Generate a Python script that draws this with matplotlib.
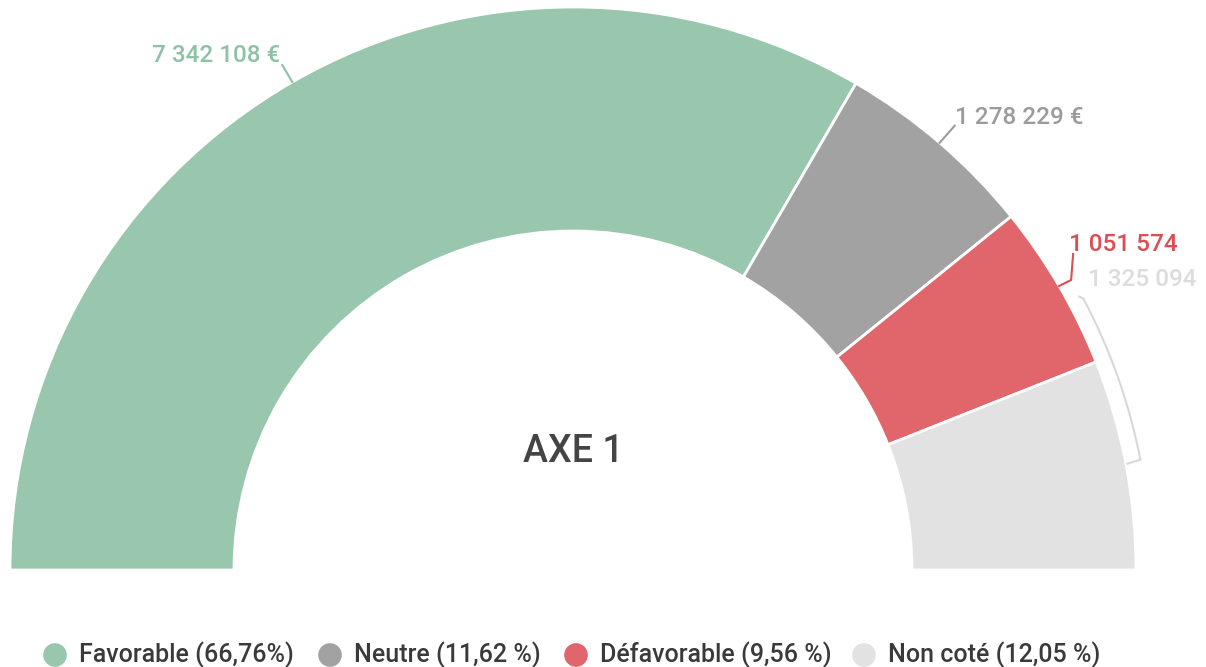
import matplotlib.pyplot as plt
from matplotlib.patches import Arc
import numpy as np

plt.rcParams['font.family'] = ['Roboto', 'DejaVu Sans']

# data
categories = ['Favorable', 'Neutre', 'Défavorable', 'Non coté']
values = [7342108, 1278229, 1051574, 1325094]
value_labels = ['7 342 108 €', '1 278 229 €', '1 051 574', '1 325 094']
legend_labels = ['Favorable (66,76%)', 'Neutre (11,62 %)', 'Défavorable (9,56 %)', 'Non coté (12,05 %)']
colors = ['#99c7ad', '#a2a2a2', '#e0666b', '#e3e2e3']
label_colors = ['#8ec2a4', '#9b9b9b', '#dc4d56', '#dcdcdc']
legend_x = [55, 330, 576, 864]

W, H = 1206, 667
fig = plt.figure(figsize=(W / 100, H / 100), dpi=100)
ax = fig.add_axes([0, 0, 1, 1])

cx, cy = 573, H - 570
R, width = 563, 224
total = sum(values)

wedges, _ = ax.pie(values + [total], radius=R, center=(cx, cy), startangle=180,
                   counterclock=False, colors=colors + ['none'],
                   wedgeprops=dict(width=width, edgecolor='white', linewidth=2))
wedges[-1].set_visible(False)

ax.set_xlim(0, W)
ax.set_ylim(0, H)
ax.set_aspect('equal')
ax.axis('off')

# mid angles of each slice
fr = np.cumsum([0] + values) / total
mids = 180 - (fr[:-1] + fr[1:]) / 2 * 180

def pt(ang, r):
    a = np.radians(ang)
    return cx + r * np.cos(a), cy + r * np.sin(a)

fs = 17.5

# Favorable label
x0, y0 = pt(mids[0], R)
ax.plot([x0, x0 - 10], [y0, y0 + 17], color=label_colors[0], lw=1.5)
ax.text(x0 - 12, y0 + 26, value_labels[0], color=label_colors[0], fontsize=fs,
        ha='right', va='center', fontweight=500)

# Neutre label
x1, y1 = pt(mids[1], R)
ax.plot([x1, x1 + 15], [y1, y1 + 17], color=label_colors[1], lw=1.5)
ax.text(x1 + 15, y1 + 25, value_labels[1], color=label_colors[1], fontsize=fs,
        ha='left', va='center', fontweight=500)

# Défavorable label
x2, y2 = pt(mids[2], R)
ax.plot([x2, x2 + 12, x2 + 14], [y2, y2 + 6, y2 + 32], color=label_colors[2], lw=1.5)
ax.text(x2 + 10, y2 + 41, value_labels[2], color=label_colors[2], fontsize=fs,
        ha='left', va='center', fontweight=500)

# Non coté label with bracket
ax.add_patch(Arc((cx, cy), 2 * 578, 2 * 578, theta1=11, theta2=28,
                 color='#d8d8d8', lw=1.5))
xa, ya = pt(28, 578)
ax.plot([xa - 4, xa], [ya + 2, ya], color='#d8d8d8', lw=1.5)
xb, yb = pt(11, 578)
ax.plot([xb, xb - 13], [yb, yb - 4], color='#d8d8d8', lw=1.5)
ax.text(1088, H - 279, value_labels[3], color=label_colors[3], fontsize=fs,
        ha='left', va='center', fontweight=500)

ax.text(cx, H - 452, 'AXE 1', color='#444444', fontsize=27, ha='center',
        va='center', fontweight=500)

# legend
ly = H - 655
for lx, c, lab in zip(legend_x, colors, legend_labels):
    ax.scatter([lx], [ly], s=290, color=c, edgecolors='none')
    ax.text(lx + 24, ly, lab, color='#3a3a3a', fontsize=18, ha='left',
            va='center', fontweight=500)

fig.savefig('out.png', dpi=100, facecolor='white')
